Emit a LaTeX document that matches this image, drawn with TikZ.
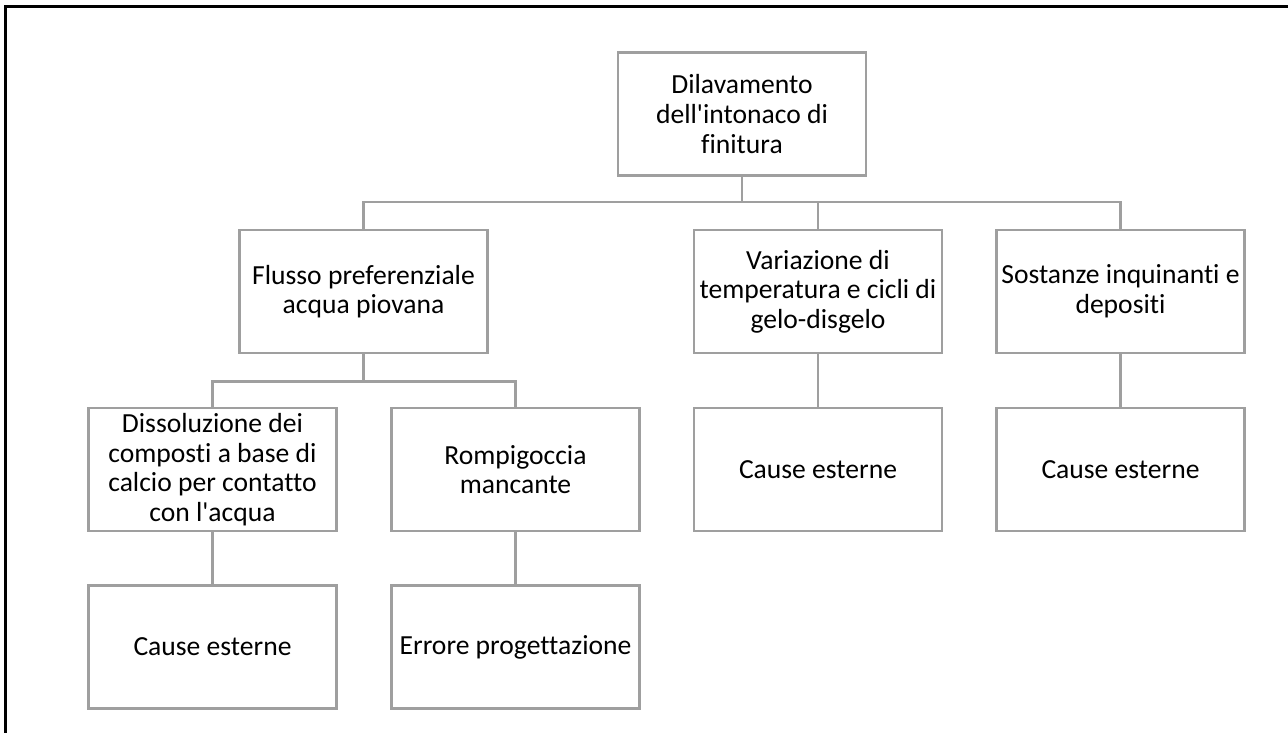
\documentclass[tikz,border=0pt]{standalone}
\usepackage{fontspec}
\setmainfont{Carlito}[Ligatures=NoCommon]
\usepackage{tikz}
\usetikzlibrary{positioning}

\tikzset{
  box/.style={draw=gray!75, line width=2.6pt, fill=white, minimum width=248pt, minimum height=123pt,
    align=center, font=\fontsize{27.6}{29.6}\selectfont},
  link/.style={draw=gray!75, line width=2.6pt}
}

\begin{document}
\begin{tikzpicture}[x=1pt, y=-1pt]
  \useasboundingbox (0,0) rectangle (1288,733);
  \draw[line width=3pt] (1288,7) -- (5,7) -- (5,733);

  \node[box] (dil)  at (742,114)    {Dilavamento\\dell\textquotesingle intonaco di\\finitura};
  \node[box] (flu)  at (363.5,291.5) {Flusso preferenziale\\acqua piovana};
  \node[box] (var)  at (818,291.5)  {Variazione di\\temperatura e cicli di\\gelo-disgelo};
  \node[box] (sos)  at (1120.5,291.5) {Sostanze inquinanti e\\depositi};
  \node[box] (dis)  at (212.5,469.5) {Dissoluzione dei\\composti a base di\\calcio per contatto\\con l\textquotesingle acqua};
  \node[box] (rom)  at (515.5,469.5) {Rompigoccia\\mancante};
  \node[box] (ceV)  at (818,469.5)  {Cause esterne};
  \node[box] (ceS)  at (1120.5,469.5) {Cause esterne};
  \node[box] (ceD)  at (212.5,647)  {Cause esterne};
  \node[box] (err)  at (515.5,647)  {Errore progettazione};

  \path[link]
  (dil.south) -- ++(0,25) -| (flu.north)
  (dil.south) -- ++(0,25) -| (var.north)
  (dil.south) -- ++(0,25) -| (sos.north)
  (flu.south) -- ++(0,27) -| (dis.north)
  (flu.south) -- ++(0,27) -| (rom.north)
  (var.south) -- (ceV.north)
  (sos.south) -- (ceS.north)
  (dis.south) -- (ceD.north)
  (rom.south) -- (err.north)
  ;
\end{tikzpicture}
\end{document}
